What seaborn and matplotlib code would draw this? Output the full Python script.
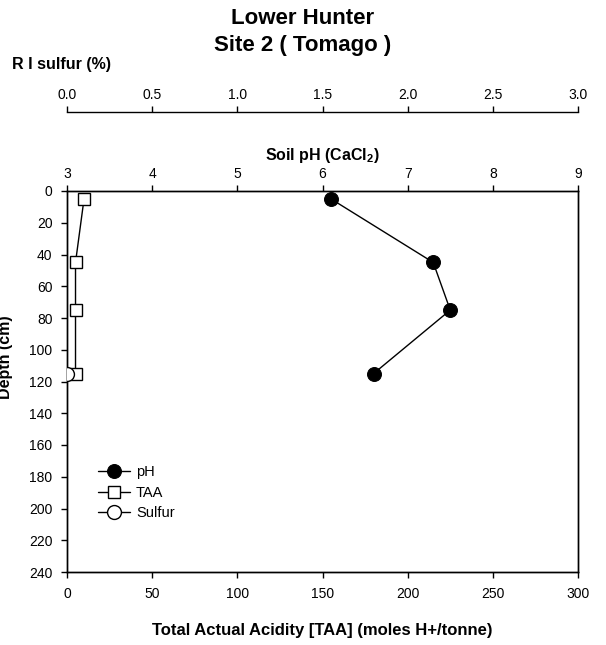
import numpy as np
import pandas as pd
import matplotlib
matplotlib.use("Agg")
import matplotlib.pyplot as plt
import seaborn as sns

# depth profile values
depth = [5, 45, 75, 115]
ph = [6.1, 7.3, 7.5, 6.6]
taa = [10, 5, 5, 5]
sulfur_depth = [115]
sulfur = [0.0]

sns.set_style("ticks")
plt.rcParams['font.family'] = ['Liberation Sans', 'DejaVu Sans']
plt.rcParams['mathtext.fontset'] = 'custom'
plt.rcParams['mathtext.rm'] = 'Liberation Sans'
plt.rcParams['mathtext.bf'] = 'Liberation Sans:bold'
for k in ['text.color', 'axes.labelcolor', 'xtick.color', 'ytick.color', 'axes.edgecolor']:
    plt.rcParams[k] = 'black'

W, H = 606, 645
fig = plt.figure(figsize=(W / 100, H / 100), dpi=100)
left, right, top, bottom = 67, 578, 191, 572
ax = fig.add_axes([left / W, 1 - bottom / H, (right - left) / W, (bottom - top) / H])

tick_kw = dict(labelsize=10, length=4.5, width=1, color='black', labelcolor='black')

# TAA on bottom axis
sns.lineplot(x=taa, y=depth, ax=ax, sort=False, estimator=None, color='black',
             lw=1, marker='s', markersize=9, markerfacecolor='white',
             markeredgecolor='black', markeredgewidth=1, label='TAA', legend=False)
ax.set_xlim(0, 300)
ax.set_ylim(240, 0)
ax.set_xticks(np.arange(0, 301, 50))
ax.set_yticks(np.arange(0, 241, 20))
ax.tick_params(axis='both', direction='out', pad=6, **tick_kw)
ax.set_xlabel('Total Actual Acidity [TAA] (moles H+/tonne)', fontsize=12,
              fontweight='bold', labelpad=16)
ax.set_ylabel('')
for s in ax.spines.values():
    s.set_color('black')
    s.set_linewidth(1)
fig.text(6 / W, 1 - 357 / H, 'Depth (cm)', fontsize=11.5, fontweight='bold',
         rotation=90, ha='center', va='center')

# pH on top axis
ax_ph = ax.twiny()
sns.lineplot(x=ph, y=depth, ax=ax_ph, sort=False, estimator=None, color='black',
             lw=1, marker='o', markersize=10, markerfacecolor='black',
             markeredgecolor='black', label='pH', legend=False)
ax_ph.set_xlim(3, 9)
ax_ph.set_ylim(240, 0)
ax_ph.set_xticks(np.arange(3, 10, 1))
ax_ph.tick_params(axis='x', direction='out', pad=3, **tick_kw)
ax_ph.set_xlabel(r'Soil pH (CaCl$_{\mathbf{2}}$)', fontsize=11.5, fontweight='bold',
                 labelpad=5)
for s in ax_ph.spines.values():
    s.set_color('black')
    s.set_linewidth(1)

# sulfur on a detached top axis
ax_s = ax.twiny()
sns.lineplot(x=sulfur, y=sulfur_depth, ax=ax_s, sort=False, estimator=None,
             color='black', lw=1, marker='o', markersize=10,
             markerfacecolor='white', markeredgecolor='black',
             markeredgewidth=1, label='Sulfur', legend=False)
ax_s.set_xlim(0, 3)
ax_s.set_ylim(240, 0)
ax_s.set_xticks(np.arange(0, 3.01, 0.5))
ax_s.set_xticklabels([f'{v:.1f}' for v in np.arange(0, 3.01, 0.5)])
ax_s.spines['top'].set_position(('axes', 1 + (top - 112) / (bottom - top)))
for k in ['left', 'right', 'bottom']:
    ax_s.spines[k].set_visible(False)
ax_s.spines['top'].set_color('black')
ax_s.spines['top'].set_linewidth(1)
ax_s.tick_params(axis='x', direction='out', pad=3, **tick_kw)
ax_s.set_xlabel('')
fig.text(12 / W, 1 - 64 / H, 'R I sulfur (%)', fontsize=11.5, fontweight='bold',
         ha='left', va='center')

# legend
handles = []
for a in (ax_ph, ax, ax_s):
    handles += a.get_lines()
ax.legend(handles=handles, labels=['pH', 'TAA', 'Sulfur'], loc='upper left',
          bbox_to_anchor=(0.035, 0.315), frameon=False, fontsize=10.5,
          handlelength=2.2, handletextpad=0.4, labelspacing=0.45)

fig.text(0.5, 1 - 18 / H, 'Lower Hunter', fontsize=16, fontweight='bold',
         ha='center', va='center')
fig.text(0.5, 1 - 45 / H, 'Site 2 ( Tomago )', fontsize=16, fontweight='bold',
         ha='center', va='center')

fig.savefig('out.png', dpi=100)
